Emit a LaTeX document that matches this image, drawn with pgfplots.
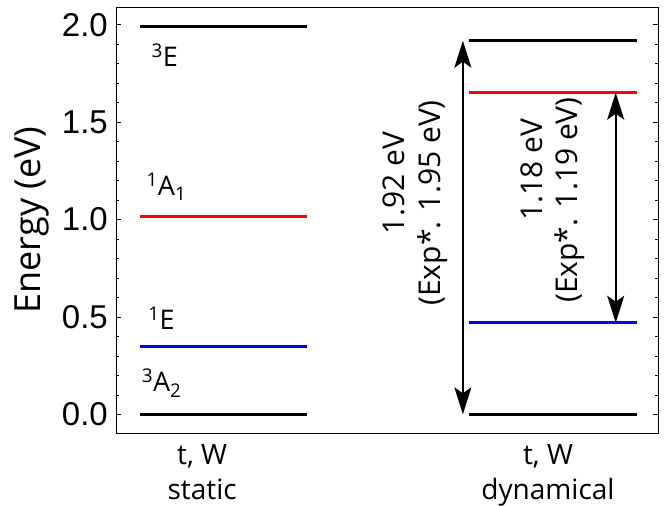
\documentclass[border=0pt]{standalone}
\usepackage{fontspec}
\setmainfont{Open Sans}
\newfontfamily\tickfont{Liberation Sans}
\usepackage{pgfplots}
\pgfplotsset{compat=1.18}
\usetikzlibrary{arrows.meta}

\newcommand{\lvlfont}{\fontsize{27}{27}\selectfont}
\newcommand{\annfont}{\fontsize{30}{30}\selectfont}

\begin{document}
\begin{tikzpicture}
\useasboundingbox (-116pt,-73pt) rectangle (551pt,433pt);
\begin{axis}[
    at={(0,0)}, anchor=south west,
    scale only axis, width=542pt, height=426pt,
    xmin=0, xmax=1, ymin=-0.096, ymax=2.091,
    xtick={0.159,0.797},
    xticklabels={{t, W\\static},{t, W\\dynamical}},
    xtick style={draw=none},
    x tick label style={align=center, font=\fontsize{28}{35}\selectfont, inner sep=0pt, yshift=-11pt},
    ytick={0,0.5,1,1.5,2}, minor y tick num=4,
    ytick pos=both, yticklabel pos=left,
    tick align=inside,
    major tick length=5pt, minor tick length=3pt,
    y tick label style={font=\fontsize{33}{33}\selectfont\tickfont, anchor=east, inner sep=0pt, xshift=-8pt,
        /pgf/number format/.cd, fixed, fixed zerofill, precision=1, assume math mode=true},
    ylabel={Energy (eV)},
    ylabel style={font=\fontsize{36}{36}\selectfont, at={(axis description cs:-0.140,0.5)}, anchor=base},
    axis line style={line width=0.8pt},
    every tick/.style={black, line width=0.6pt},
    clip=false,
]
% static levels
\addplot[black, line width=3pt] coordinates {(0.044,1.99) (0.352,1.99)};
\addplot[red, line width=3pt] coordinates {(0.044,1.018) (0.352,1.018)};
\addplot[blue, line width=3pt] coordinates {(0.044,0.349) (0.352,0.349)};
\addplot[black, line width=3pt] coordinates {(0.044,0) (0.352,0)};
% dynamical levels
\addplot[black, line width=3pt] coordinates {(0.651,1.918) (0.961,1.918)};
\addplot[red, line width=3pt] coordinates {(0.651,1.651) (0.961,1.651)};
\addplot[blue, line width=3pt] coordinates {(0.651,0.47) (0.961,0.47)};
\addplot[black, line width=3pt] coordinates {(0.651,0) (0.961,0)};
% arrows
\addplot[black, line width=2pt, {Stealth[length=27pt,width=17pt,inset=6pt]}-{Stealth[length=27pt,width=17pt,inset=6pt]}]
    coordinates {(0.64,0) (0.64,1.918)};
\addplot[black, line width=2pt, {Stealth[length=27pt,width=17pt,inset=6pt]}-{Stealth[length=27pt,width=17pt,inset=6pt]}]
    coordinates {(0.922,0.47) (0.922,1.651)};
% level names
\node[anchor=base west, font=\lvlfont] at (axis cs:0.059,1.783) {\textsuperscript{3}E};
\node[anchor=base west, font=\lvlfont] at (axis cs:0.050,1.121) {\textsuperscript{1}A\textsubscript{1}};
\node[anchor=base west, font=\lvlfont] at (axis cs:0.053,0.433) {\textsuperscript{1}E};
\node[anchor=base west, font=\lvlfont] at (axis cs:0.041,0.115) {\textsuperscript{3}A\textsubscript{2}};
% gap annotations
\node[rotate=90, anchor=base, font=\annfont] at (axis cs:0.533,1.187) {1.92 eV};
\node[rotate=90, anchor=base, font=\annfont] at (axis cs:0.598,1.085) {(Exp*. 1.95 eV)};
\node[rotate=90, anchor=base, font=\annfont] at (axis cs:0.786,1.254) {1.18 eV};
\node[rotate=90, anchor=base, font=\annfont] at (axis cs:0.851,1.100) {(Exp*. 1.19 eV)};
\end{axis}
\end{tikzpicture}
\end{document}
